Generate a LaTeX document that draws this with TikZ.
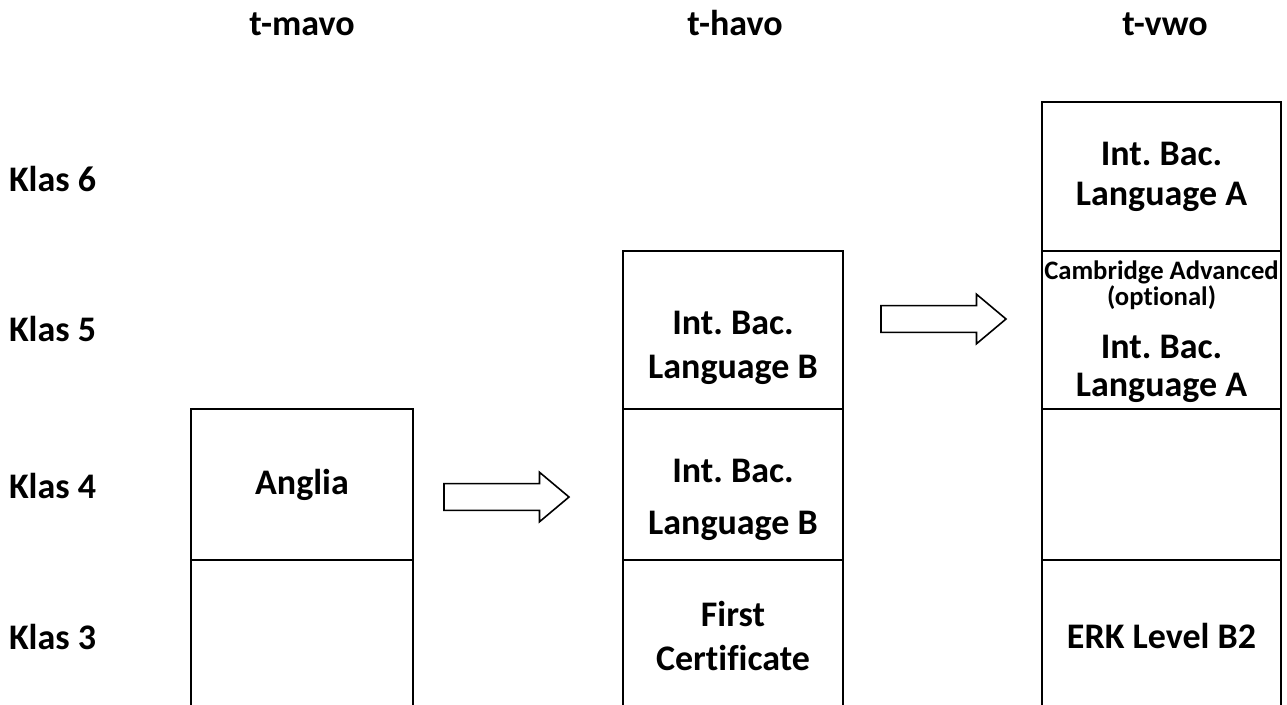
\documentclass[tikz,border=0pt]{standalone}
\usepackage{fontspec}
\setmainfont{Carlito}[Ligatures=NoCommon]
\usetikzlibrary{shapes.arrows}
\frenchspacing

\begin{document}
\begin{tikzpicture}[x=0.75pt, y=-0.75pt, line width=1.5pt, font=\bfseries\fontsize{27}{33}\selectfont]
  \tikzstyle{M}=[draw, minimum width=166.5pt, inner sep=0pt, outer sep=0pt, align=center]
  \tikzstyle{H}=[draw, minimum width=165pt, inner sep=0pt, outer sep=0pt, align=center]
  \tikzstyle{V}=[draw, minimum width=179.25pt, inner sep=0pt, outer sep=0pt, align=center]
  \tikzstyle{T}=[align=center, inner sep=0pt]
  \tikzstyle{K}=[anchor=base west, inner sep=0pt]
  \tikzstyle{A}=[draw, line width=1.2pt, single arrow, single arrow head extend=8.6pt, single arrow tip angle=80, minimum height=93.75pt, inner xsep=0pt, inner ysep=9.4pt, text height=0pt, text depth=0pt, outer sep=0pt, anchor=tail]

  \useasboundingbox (0,0) rectangle (1287,704);
  \clip (0,0) rectangle (1287,704);

  % column heads
  \node[anchor=base] at (302,35) (mavo) {t-mavo};
  \node[anchor=base] at (735,35) (havo) {t-havo};
  \node[anchor=base] at (1165,35) (vwo) {t-vwo};

  % rows
  \node[K] at (8,191) (k6) {Klas 6};
  \node[K] at (8,341) (k5) {Klas 5};
  \node[K] at (8,498) (k4) {Klas 4};
  \node[K] at (8,649) (k3) {Klas 3};

  % t-mavo
  \node[M, minimum height=113.25pt] at (302,484.5) (m4) {Anglia};
  \node[M, minimum height=114pt] at (302,636) (m3) {};

  % t-havo
  \node[H, minimum height=118.5pt] at (733,330) (h5) {};
  \node[H, minimum height=113.25pt] at (733,484.5) (h4) {};
  \node[H, minimum height=114pt] at (733,636) (h3) {First\\Certificate};
  \node[T] at (733,348) (h5t) {Int. Bac.\\Language B};
  \node[T] at (733,500) (h4t) {Int. Bac.\\[6pt]Language B};

  % t-vwo
  \node[V, minimum height=111.75pt, font=\bfseries\fontsize{27}{30}\selectfont] at (1161.5,176.5) (v6) {Int. Bac.\\Language A};
  \node[V, minimum height=118.5pt] at (1161.5,330) (v5) {};
  \node[V, minimum height=113.25pt] at (1161.5,484.5) (v4) {};
  \node[V, minimum height=114pt] at (1161.5,636) (v3) {ERK Level B2};
  \node[T, font=\bfseries\fontsize{20}{16.5}\selectfont] at (1161.5,285) (v5a) {Cambridge Advanced\\(optional)};
  \node[T, font=\bfseries\fontsize{27}{28.5}\selectfont] at (1161.5,369) (v5b) {Int. Bac.\\Language A};

  % arrows
  \node[A] at (444,497) (a1) {};
  \node[A] at (881,319) (a2) {};

\end{tikzpicture}
\end{document}
